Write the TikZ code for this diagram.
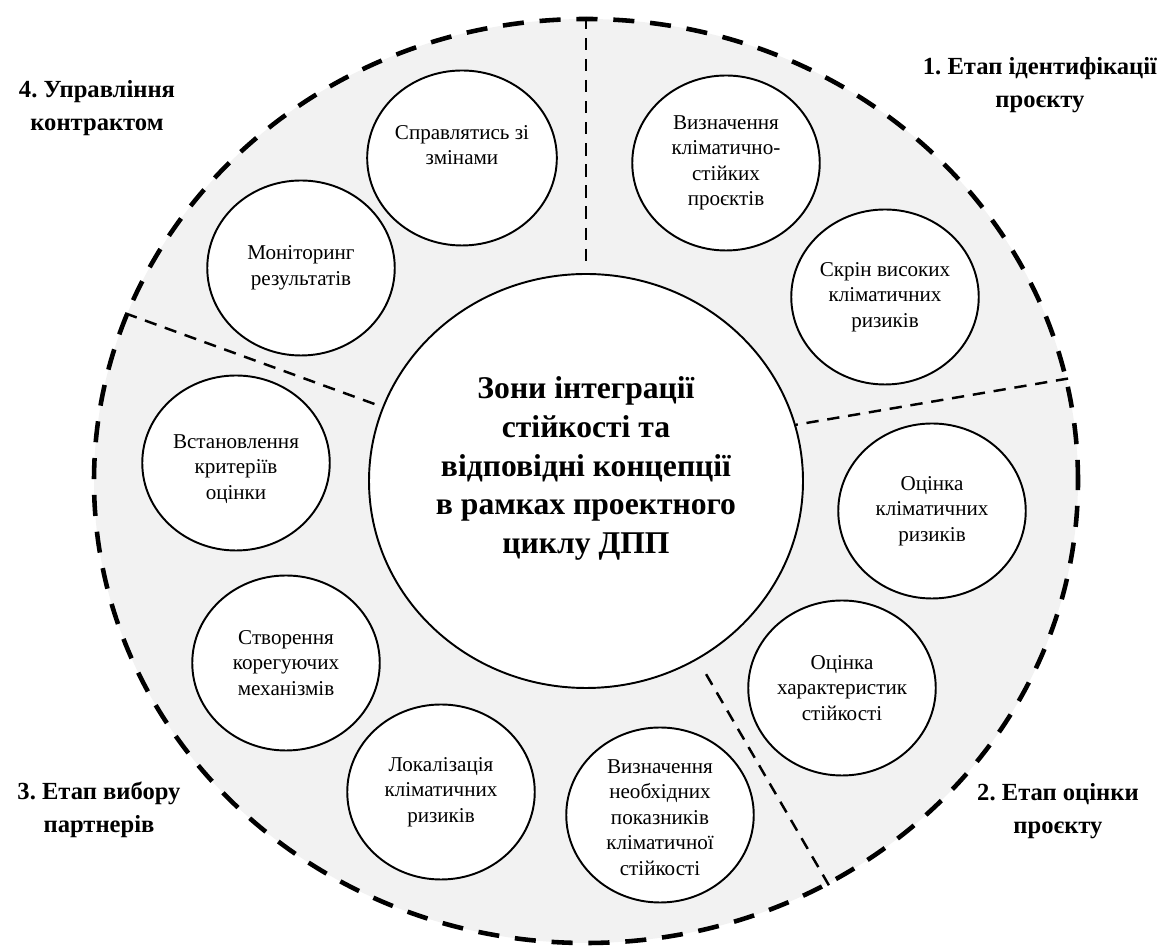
\documentclass[tikz,border=0pt]{standalone}
\usepackage{fontspec}
\setmainfont{Liberation Serif}
\frenchspacing
\usetikzlibrary{shapes.geometric,positioning}
\tikzset{
  split/.style={line width=1.4pt, dash pattern=on 7pt off 5pt},
}

\begin{document}
\begin{tikzpicture}[
  ring/.style={ellipse, draw, line width=2.6pt, dash pattern=on 12pt off 9pt, fill=black!5, minimum width=19.68cm, minimum height=18.48cm, inner sep=0pt},
  core/.style={ellipse, draw, line width=1.1pt, fill=white, minimum width=8.68cm, minimum height=8.28cm, inner sep=0pt},
  bubble/.style={ellipse, draw, line width=1.1pt, fill=white, minimum width=3.75cm, minimum height=3.5cm, inner sep=0pt, align=center, font=\fontsize{12}{14.5}\selectfont},
  stage/.style={align=center, font=\fontsize{14}{18.5}\selectfont\bfseries}
]
\useasboundingbox (0,0) rectangle (23.38,18.94);

\node[ring] (ring) at (11.72,9.32) {};
\node[core] (core) at (ring.center) {};
\node[align=center, font=\fontsize{18}{22}\selectfont\bfseries] (title) at ([yshift=7pt]core.center) {Зони інтеграції\\стійкості та\\відповідні концепції\\в рамках проектного\\циклу ДПП};

% stage borders
\draw[split, shorten >=2.8pt] (ring.90) -- (core.90);
\draw[split] (ring.12) -- (core.15);
\draw[split, shorten >=6pt] (ring.-59.5) -- (core.-58);
\draw[split] (ring.160) -- (core.160);

% stage 1
\node[bubble] (define) at (14.52,15.68) {Визначення\\кліматично-\\стійких\\проєктів};
\node[bubble] (screen) at (17.70,13.00) {Скрін високих\\кліматичних\\ризиків};
% stage 2
\node[bubble] (riskeval) at (18.64,8.72) {Оцінка\\кліматичних\\ризиків};
\node[bubble] (resil) at (16.84,5.18) {Оцінка\\характеристик\\стійкості};
% stage 3
\node[bubble] (indic) at (13.20,2.64) {\mbox{}\\[-4pt]Визначення\\необхідних\\показників\\кліматичної\\стійкості};
\node[bubble] (local) at (8.82,3.10) {Локалізація\\кліматичних\\ризиків};
\node[bubble] (correct) at (5.72,5.68) {Створення\\корегуючих\\механізмів};
\node[bubble] (criteria) at (4.72,9.68) {\mbox{}\\Встановлення\\критеріїв\\оцінки};
% stage 4
\node[bubble] (monitor) at (6.02,13.58) {Моніторинг\\результатів};
\node[bubble] (change) at (9.24,15.78) {Справлятись зі\\змінами\\\mbox{}};

\node[stage] (idstage) at (20.80,17.24) {1. Етап ідентифікації\\проєкту};
\node[stage] (evalstage) at (21.16,2.72) {2. Етап оцінки\\проєкту};
\node[stage] (partstage) at (1.98,2.74) {3. Етап вибору\\партнерів};
\node[stage] (ctrstage) at (1.94,16.78) {4. Управління\\контрактом};

\end{tikzpicture}
\end{document}
